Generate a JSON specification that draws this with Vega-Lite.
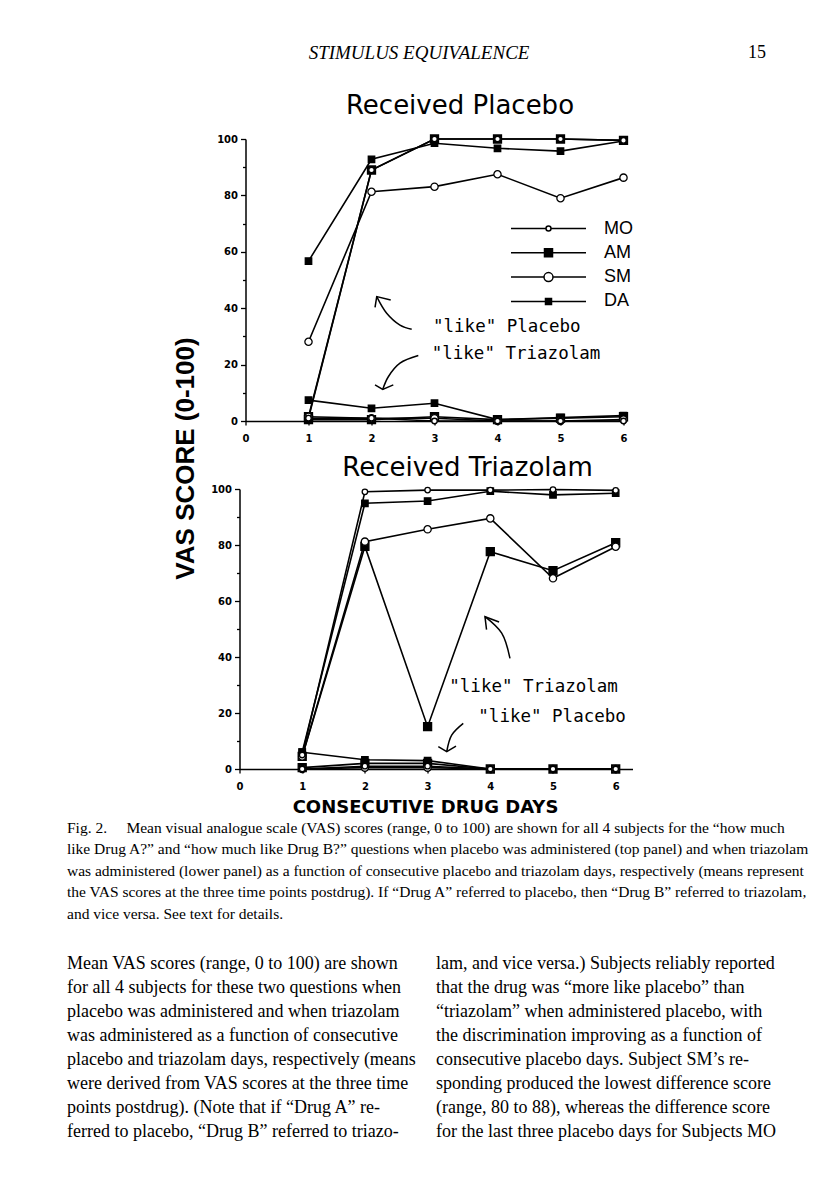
{
  "$schema": "https://vega.github.io/schema/vega-lite/v6.json",
  "background": "white",
  "padding": {"left": 67, "top": 0, "right": 4, "bottom": 4},
  "autosize": {"type": "pad"},
  "bounds": "flush",
  "center": true,
  "spacing": 33,
  "config": {
    "view": {"stroke": null},
    "axis": {
      "domainColor": "black", "domainWidth": 1.5, "tickColor": "black", "tickWidth": 1.3,
      "labelColor": "black", "labelFont": "DejaVu Sans", "labelFontWeight": "bold", "labelFontSize": 10,
      "grid": false, "labelFlush": false, "labelOverlap": false, "titleColor": "black"
    },
    "text": {"color": "black"}
  },
  "resolve": {
    "scale": {"shape": "independent", "size": "independent", "fill": "independent"},
    "legend": {"shape": "independent", "size": "independent", "fill": "independent"}
  },
  "datasets": {
    "header": [
      {"role": "running head", "label": "STIMULUS EQUIVALENCE"},
      {"role": "page number", "label": "15"}
    ],
    "placebo_series": [
      {"subject": "DA", "question": "like placebo", "day": 1, "score": 1.5},
      {"subject": "DA", "question": "like placebo", "day": 2, "score": 89},
      {"subject": "DA", "question": "like placebo", "day": 3, "score": 100},
      {"subject": "DA", "question": "like placebo", "day": 4, "score": 100},
      {"subject": "DA", "question": "like placebo", "day": 5, "score": 100},
      {"subject": "DA", "question": "like placebo", "day": 6, "score": 99.5},
      {"subject": "DA", "question": "like triazolam", "day": 1, "score": 0.5},
      {"subject": "DA", "question": "like triazolam", "day": 2, "score": 0.5},
      {"subject": "DA", "question": "like triazolam", "day": 3, "score": 1.5},
      {"subject": "DA", "question": "like triazolam", "day": 4, "score": 0.5},
      {"subject": "DA", "question": "like triazolam", "day": 5, "score": 1},
      {"subject": "DA", "question": "like triazolam", "day": 6, "score": 1.5},
      {"subject": "AM", "question": "like placebo", "day": 1, "score": 56.7},
      {"subject": "AM", "question": "like placebo", "day": 2, "score": 92.8},
      {"subject": "AM", "question": "like placebo", "day": 3, "score": 98.5},
      {"subject": "AM", "question": "like placebo", "day": 4, "score": 96.7},
      {"subject": "AM", "question": "like placebo", "day": 5, "score": 95.7},
      {"subject": "AM", "question": "like placebo", "day": 6, "score": 99.3},
      {"subject": "AM", "question": "like triazolam", "day": 1, "score": 7.4},
      {"subject": "AM", "question": "like triazolam", "day": 2, "score": 4.5},
      {"subject": "AM", "question": "like triazolam", "day": 3, "score": 6.3},
      {"subject": "AM", "question": "like triazolam", "day": 4, "score": 0.5},
      {"subject": "AM", "question": "like triazolam", "day": 5, "score": 1.2},
      {"subject": "AM", "question": "like triazolam", "day": 6, "score": 1.9},
      {"subject": "SM", "question": "like placebo", "day": 1, "score": 28.1},
      {"subject": "SM", "question": "like placebo", "day": 2, "score": 81.3},
      {"subject": "SM", "question": "like placebo", "day": 3, "score": 83.1},
      {"subject": "SM", "question": "like placebo", "day": 4, "score": 87.5},
      {"subject": "SM", "question": "like placebo", "day": 5, "score": 79},
      {"subject": "SM", "question": "like placebo", "day": 6, "score": 86.3},
      {"subject": "SM", "question": "like triazolam", "day": 1, "score": 1.5},
      {"subject": "SM", "question": "like triazolam", "day": 2, "score": 1},
      {"subject": "SM", "question": "like triazolam", "day": 3, "score": 1},
      {"subject": "SM", "question": "like triazolam", "day": 4, "score": 0},
      {"subject": "SM", "question": "like triazolam", "day": 5, "score": 0},
      {"subject": "SM", "question": "like triazolam", "day": 6, "score": 0.5},
      {"subject": "MO", "question": "like placebo", "day": 1, "score": 1},
      {"subject": "MO", "question": "like placebo", "day": 2, "score": 89},
      {"subject": "MO", "question": "like placebo", "day": 3, "score": 100},
      {"subject": "MO", "question": "like placebo", "day": 4, "score": 100},
      {"subject": "MO", "question": "like placebo", "day": 5, "score": 100},
      {"subject": "MO", "question": "like placebo", "day": 6, "score": 99.5},
      {"subject": "MO", "question": "like triazolam", "day": 1, "score": 1},
      {"subject": "MO", "question": "like triazolam", "day": 2, "score": 1},
      {"subject": "MO", "question": "like triazolam", "day": 3, "score": 0},
      {"subject": "MO", "question": "like triazolam", "day": 4, "score": 0},
      {"subject": "MO", "question": "like triazolam", "day": 5, "score": 0},
      {"subject": "MO", "question": "like triazolam", "day": 6, "score": 0}
    ],
    "triazolam_series": [
      {"subject": "DA", "question": "like triazolam", "day": 1, "score": 4.5},
      {"subject": "DA", "question": "like triazolam", "day": 2, "score": 79.5},
      {"subject": "DA", "question": "like triazolam", "day": 3, "score": 15.1},
      {"subject": "DA", "question": "like triazolam", "day": 4, "score": 77.6},
      {"subject": "DA", "question": "like triazolam", "day": 5, "score": 70.8},
      {"subject": "DA", "question": "like triazolam", "day": 6, "score": 80.8},
      {"subject": "DA", "question": "like placebo", "day": 1, "score": 0.5},
      {"subject": "DA", "question": "like placebo", "day": 2, "score": 2},
      {"subject": "DA", "question": "like placebo", "day": 3, "score": 2},
      {"subject": "DA", "question": "like placebo", "day": 4, "score": 0},
      {"subject": "DA", "question": "like placebo", "day": 5, "score": 0},
      {"subject": "DA", "question": "like placebo", "day": 6, "score": 0},
      {"subject": "AM", "question": "like triazolam", "day": 1, "score": 6},
      {"subject": "AM", "question": "like triazolam", "day": 2, "score": 94.9},
      {"subject": "AM", "question": "like triazolam", "day": 3, "score": 95.7},
      {"subject": "AM", "question": "like triazolam", "day": 4, "score": 99.2},
      {"subject": "AM", "question": "like triazolam", "day": 5, "score": 97.9},
      {"subject": "AM", "question": "like triazolam", "day": 6, "score": 98.5},
      {"subject": "AM", "question": "like placebo", "day": 1, "score": 6},
      {"subject": "AM", "question": "like placebo", "day": 2, "score": 3.3},
      {"subject": "AM", "question": "like placebo", "day": 3, "score": 3},
      {"subject": "AM", "question": "like placebo", "day": 4, "score": 0},
      {"subject": "AM", "question": "like placebo", "day": 5, "score": 0},
      {"subject": "AM", "question": "like placebo", "day": 6, "score": 0},
      {"subject": "SM", "question": "like triazolam", "day": 1, "score": 4.5},
      {"subject": "SM", "question": "like triazolam", "day": 2, "score": 81.2},
      {"subject": "SM", "question": "like triazolam", "day": 3, "score": 85.6},
      {"subject": "SM", "question": "like triazolam", "day": 4, "score": 89.5},
      {"subject": "SM", "question": "like triazolam", "day": 5, "score": 68.1},
      {"subject": "SM", "question": "like triazolam", "day": 6, "score": 79.4},
      {"subject": "SM", "question": "like placebo", "day": 1, "score": 0},
      {"subject": "SM", "question": "like placebo", "day": 2, "score": 0.5},
      {"subject": "SM", "question": "like placebo", "day": 3, "score": 0.5},
      {"subject": "SM", "question": "like placebo", "day": 4, "score": 0},
      {"subject": "SM", "question": "like placebo", "day": 5, "score": 0},
      {"subject": "SM", "question": "like placebo", "day": 6, "score": 0},
      {"subject": "MO", "question": "like triazolam", "day": 1, "score": 5},
      {"subject": "MO", "question": "like triazolam", "day": 2, "score": 99},
      {"subject": "MO", "question": "like triazolam", "day": 3, "score": 99.6},
      {"subject": "MO", "question": "like triazolam", "day": 4, "score": 99.6},
      {"subject": "MO", "question": "like triazolam", "day": 5, "score": 99.8},
      {"subject": "MO", "question": "like triazolam", "day": 6, "score": 99.5},
      {"subject": "MO", "question": "like placebo", "day": 1, "score": 0},
      {"subject": "MO", "question": "like placebo", "day": 2, "score": 1},
      {"subject": "MO", "question": "like placebo", "day": 3, "score": 1},
      {"subject": "MO", "question": "like placebo", "day": 4, "score": 0},
      {"subject": "MO", "question": "like placebo", "day": 5, "score": 0},
      {"subject": "MO", "question": "like placebo", "day": 6, "score": 0}
    ],
    "annotations": [
      {"panel": "Received Placebo", "label": "\"like\" Placebo", "day": 2.976, "score": 33.2},
      {"panel": "Received Placebo", "label": "\"like\" Triazolam", "day": 2.956, "score": 23.8},
      {"panel": "Received Triazolam", "label": "\"like\" Triazolam", "day": 3.346, "score": 29.2},
      {"panel": "Received Triazolam", "label": "\"like\" Placebo", "day": 3.809, "score": 18.7}
    ],
    "arrows": [
      {"panel": "Received Placebo", "arrow": "to placebo lines", "part": "shaft", "seq": 1, "day": 2.638, "score": 32.5},
      {"panel": "Received Placebo", "arrow": "to placebo lines", "part": "shaft", "seq": 2, "day": 2.452, "score": 34.0},
      {"panel": "Received Placebo", "arrow": "to placebo lines", "part": "shaft", "seq": 3, "day": 2.241, "score": 38.2},
      {"panel": "Received Placebo", "arrow": "to placebo lines", "part": "shaft", "seq": 4, "day": 2.083, "score": 44.1},
      {"panel": "Received Placebo", "arrow": "to placebo lines", "part": "head", "seq": 1, "day": 2.056, "score": 40.3},
      {"panel": "Received Placebo", "arrow": "to placebo lines", "part": "head", "seq": 2, "day": 2.083, "score": 44.1},
      {"panel": "Received Placebo", "arrow": "to placebo lines", "part": "head", "seq": 3, "day": 2.305, "score": 42.9},
      {"panel": "Received Placebo", "arrow": "to triazolam lines", "part": "shaft", "seq": 1, "day": 2.743, "score": 23.2},
      {"panel": "Received Placebo", "arrow": "to triazolam lines", "part": "shaft", "seq": 2, "day": 2.452, "score": 20.5},
      {"panel": "Received Placebo", "arrow": "to triazolam lines", "part": "shaft", "seq": 3, "day": 2.267, "score": 15.7},
      {"panel": "Received Placebo", "arrow": "to triazolam lines", "part": "shaft", "seq": 4, "day": 2.178, "score": 11.2},
      {"panel": "Received Placebo", "arrow": "to triazolam lines", "part": "head", "seq": 1, "day": 2.056, "score": 12.8},
      {"panel": "Received Placebo", "arrow": "to triazolam lines", "part": "head", "seq": 2, "day": 2.178, "score": 11.2},
      {"panel": "Received Placebo", "arrow": "to triazolam lines", "part": "head", "seq": 3, "day": 2.346, "score": 12.8},
      {"panel": "Received Triazolam", "arrow": "to triazolam lines", "part": "shaft", "seq": 1, "day": 4.314, "score": 39.5},
      {"panel": "Received Triazolam", "arrow": "to triazolam lines", "part": "shaft", "seq": 2, "day": 4.182, "score": 48.5},
      {"panel": "Received Triazolam", "arrow": "to triazolam lines", "part": "shaft", "seq": 3, "day": 3.915, "score": 54.4},
      {"panel": "Received Triazolam", "arrow": "to triazolam lines", "part": "head", "seq": 1, "day": 3.94, "score": 49.8},
      {"panel": "Received Triazolam", "arrow": "to triazolam lines", "part": "head", "seq": 2, "day": 3.915, "score": 54.4},
      {"panel": "Received Triazolam", "arrow": "to triazolam lines", "part": "head", "seq": 3, "day": 4.14, "score": 52.5},
      {"panel": "Received Triazolam", "arrow": "to placebo lines", "part": "shaft", "seq": 1, "day": 3.569, "score": 16.3},
      {"panel": "Received Triazolam", "arrow": "to placebo lines", "part": "shaft", "seq": 2, "day": 3.384, "score": 12.1},
      {"panel": "Received Triazolam", "arrow": "to placebo lines", "part": "shaft", "seq": 3, "day": 3.305, "score": 6.2},
      {"panel": "Received Triazolam", "arrow": "to placebo lines", "part": "head", "seq": 1, "day": 3.171, "score": 8.0},
      {"panel": "Received Triazolam", "arrow": "to placebo lines", "part": "head", "seq": 2, "day": 3.305, "score": 6.2},
      {"panel": "Received Triazolam", "arrow": "to placebo lines", "part": "head", "seq": 3, "day": 3.453, "score": 8.2}
    ],
    "caption": [
      {"block": "caption", "line": 1, "text": "\u2003Fig. 2.\u2003\u2005Mean visual analogue scale (VAS) scores (range, 0 to 100) are shown for all 4 subjects for the “how much"},
      {"block": "caption", "line": 2, "text": "like Drug A?” and “how much like Drug B?” questions when placebo was administered (top panel) and when triazolam"},
      {"block": "caption", "line": 3, "text": "was administered (lower panel) as a function of consecutive placebo and triazolam days, respectively (means represent"},
      {"block": "caption", "line": 4, "text": "the VAS scores at the three time points postdrug). If “Drug A” referred to placebo, then “Drug B” referred to triazolam,"},
      {"block": "caption", "line": 5, "text": "and vice versa. See text for details."}
    ],
    "body": [
      {"column": "left", "line": 1, "text": "Mean VAS scores (range, 0 to 100) are shown"},
      {"column": "left", "line": 2, "text": "for all 4 subjects for these two questions when"},
      {"column": "left", "line": 3, "text": "placebo was administered and when triazolam"},
      {"column": "left", "line": 4, "text": "was administered as a function of consecutive"},
      {"column": "left", "line": 5, "text": "placebo and triazolam days, respectively (means"},
      {"column": "left", "line": 6, "text": "were derived from VAS scores at the three time"},
      {"column": "left", "line": 7, "text": "points postdrug). (Note that if “Drug A” re-"},
      {"column": "left", "line": 8, "text": "ferred to placebo, “Drug B” referred to triazo-"},
      {"column": "right", "line": 1, "text": "lam, and vice versa.) Subjects reliably reported"},
      {"column": "right", "line": 2, "text": "that the drug was “more like placebo” than"},
      {"column": "right", "line": 3, "text": "“triazolam” when administered placebo, with"},
      {"column": "right", "line": 4, "text": "the discrimination improving as a function of"},
      {"column": "right", "line": 5, "text": "consecutive placebo days. Subject SM’s re-"},
      {"column": "right", "line": 6, "text": "sponding produced the lowest difference score"},
      {"column": "right", "line": 7, "text": "(range, 80 to 88), whereas the difference score"},
      {"column": "right", "line": 8, "text": "for the last three placebo days for Subjects MO"}
    ]
  },
  "vconcat": [
    {
      "width": 738, "height": 106,
      "resolve": {"scale": {"x": "independent"}},
      "layer": [
        {"data": {"name": "header"},
         "transform": [{"filter": "datum.role === 'running head'"}],
         "mark": {"type": "text", "font": "Liberation Serif", "fontStyle": "italic", "fontSize": 19, "letterSpacing": 1.3, "align": "center", "baseline": "middle"},
         "encoding": {
           "x": {"field": "role", "type": "nominal", "scale": {"type": "point", "domain": ["running head", "page number"], "padding": 0.5634, "align": 0.9003}, "axis": null},
           "text": {"field": "label"}}},
        {"data": {"name": "header"},
         "transform": [{"filter": "datum.role === 'page number'"}],
         "mark": {"type": "text", "font": "Liberation Serif", "fontSize": 18, "align": "right", "baseline": "middle"},
         "encoding": {
           "x": {"field": "role", "type": "nominal", "scale": {"type": "point", "domain": ["running head", "page number"], "padding": 0.5634, "align": 0.9003}, "axis": null},
           "text": {"field": "label"}}},
        {"data": {"values": [{"label": "Received Placebo"}]},
         "mark": {"type": "text", "font": "DejaVu Sans", "fontSize": 26, "align": "center", "baseline": "middle"},
         "encoding": {
           "x": {"field": "label", "type": "nominal", "scale": {"type": "point", "padding": 0, "align": 0.5325}, "axis": null},
           "y": {"value": "height"},
           "text": {"field": "label"}}}
      ]
    },
    {
      "width": 381, "height": 282,
      "encoding": {
        "x": {"field": "day", "type": "quantitative", "scale": {"domain": [0, 6.0476], "nice": false, "zero": false},
              "axis": {"title": null, "format": "d", "values": [0, 0.5, 1, 1.5, 2, 2.5, 3, 3.5, 4, 4.5, 5, 5.5, 6], "labelExpr": "datum.value % 1 === 0 ? datum.label : ''", "tickSize": 4, "labelPadding": 8}},
        "y": {"field": "score", "type": "quantitative", "scale": {"domain": [0, 100], "nice": false},
              "axis": {"title": null, "values": [0, 10, 20, 30, 40, 50, 60, 70, 80, 90, 100], "labelExpr": "datum.value % 20 === 0 ? datum.label : ''", "tickSize": {"condition": {"test": "datum.value % 20 === 0", "value": 5}, "value": 3}, "labelPadding": 3}}
      },
      "resolve": {
        "scale": {"shape": "independent", "size": "independent", "fill": "independent"},
        "legend": {"shape": "independent", "size": "independent", "fill": "independent"}
      },
      "layer": [
        {"data": {"name": "placebo_series"},
         "mark": {"type": "line", "color": "black", "strokeWidth": 1.6},
         "encoding": {"detail": [{"field": "subject"}, {"field": "question"}]}},
        {"data": {"name": "placebo_series"},
         "mark": {"type": "point", "filled": true, "stroke": "black", "strokeWidth": 1.3, "opacity": 1},
         "encoding": {
           "shape": {"field": "subject", "type": "nominal", "scale": {"domain": ["MO", "AM", "SM", "DA"], "range": ["circle", "square", "circle", "square"]}, "legend": null},
           "size": {"field": "subject", "type": "nominal", "scale": {"domain": ["MO", "AM", "SM", "DA"], "range": [30, 64, 81, 30]}, "legend": null},
           "fill": {"field": "subject", "type": "nominal", "scale": {"domain": ["MO", "AM", "SM", "DA"], "range": ["white", "black", "white", "black"]}, "legend": null}
         }},
        {"data": {"name": "placebo_series"},
         "transform": [{"filter": "false"}],
         "mark": {"type": "point", "filled": true, "stroke": "black", "strokeWidth": 1.5, "size": 100, "opacity": 1},
         "encoding": {
           "shape": {"field": "subject", "type": "nominal",
             "scale": {"domain": ["MO", "AM", "SM", "DA"], "range": [
               "M-7.5,0H-0.5M0.5,0A0.5,0.5,0,1,1,-0.5,0A0.5,0.5,0,1,1,0.5,0ZM0.5,0H7.5",
               "M-7.5,0H-0.8M-0.8,-0.8H0.8V0.8H-0.8ZM0.8,0H7.5",
               "M-7.5,0H-0.9M0.9,0A0.9,0.9,0,1,1,-0.9,0A0.9,0.9,0,1,1,0.9,0ZM0.9,0H7.5",
               "M-7.5,0H-0.6M-0.6,-0.6H0.6V0.6H-0.6ZM0.6,0H7.5"]},
             "legend": {"title": null, "orient": "none", "legendX": 294, "legendY": 80.5, "padding": 0, "rowPadding": 6.3, "symbolSize": 100,
               "symbolOpacity": 1,
               "labelFont": "Liberation Sans Narrow, Liberation Sans", "labelFontSize": 18, "labelColor": "black", "labelOffset": 46.5,
               "encode": {"symbols": {"stroke": {"value": "black"}, "strokeWidth": {"value": 1.5}}}}},
           "fill": {"field": "subject", "type": "nominal", "scale": {"domain": ["MO", "AM", "SM", "DA"], "range": ["white", "black", "white", "black"]}}
         }},
        {"data": {"name": "annotations"},
         "transform": [{"filter": "datum.panel === 'Received Placebo'"}],
         "mark": {"type": "text", "font": "DejaVu Sans Mono", "fontSize": 17.5, "align": "left", "baseline": "middle"},
         "encoding": {"text": {"field": "label"}}},
        {"data": {"name": "arrows"},
         "transform": [{"filter": "datum.panel === 'Received Placebo' && datum.part === 'shaft'"}],
         "mark": {"type": "line", "interpolate": "catmull-rom", "color": "black", "strokeWidth": 1.5},
         "encoding": {"detail": {"field": "arrow"}, "order": {"field": "seq"}}},
        {"data": {"name": "arrows"},
         "transform": [{"filter": "datum.panel === 'Received Placebo' && datum.part === 'head'"}],
         "mark": {"type": "line", "color": "black", "strokeWidth": 1.5},
         "encoding": {"detail": {"field": "arrow"}, "order": {"field": "seq"}}}
      ]
    },
    {
      "width": 738, "height": 2,
      "data": {"values": [{"label": "Received Triazolam"}]},
      "mark": {"type": "text", "font": "DejaVu Sans", "fontSize": 26, "align": "center", "baseline": "top"},
      "encoding": {
        "x": {"field": "label", "type": "nominal", "scale": {"type": "point", "padding": 0, "align": 0.5427}, "axis": null},
        "text": {"field": "label"}
      }
    },
    {
      "width": 393, "height": 280,
      "encoding": {
        "x": {"field": "day", "type": "quantitative", "scale": {"domain": [0, 6.268], "nice": false, "zero": false},
              "axis": {"title": "CONSECUTIVE DRUG DAYS", "titleFont": "DejaVu Sans", "titleFontWeight": "bold", "titleFontSize": 18, "titleX": 185.5, "titleY": 38, "titleBaseline": "middle", "titleAlign": "center",
                       "format": "d", "values": [0, 0.5, 1, 1.5, 2, 2.5, 3, 3.5, 4, 4.5, 5, 5.5, 6], "labelExpr": "datum.value % 1 === 0 ? datum.label : ''", "tickSize": 4, "labelPadding": 8}},
        "y": {"field": "score", "type": "quantitative", "scale": {"domain": [0, 100], "nice": false},
              "axis": {"title": "VAS SCORE (0-100)", "titleFont": "Liberation Sans", "titleFontWeight": "bold", "titleFontSize": 26, "titleAngle": 270, "titleX": -54, "titleY": -31, "titleBaseline": "middle", "titleAlign": "center",
                       "values": [0, 10, 20, 30, 40, 50, 60, 70, 80, 90, 100], "labelExpr": "datum.value % 20 === 0 ? datum.label : ''", "tickSize": {"condition": {"test": "datum.value % 20 === 0", "value": 5}, "value": 3}, "labelPadding": 3}}
      },
      "layer": [
        {"data": {"name": "triazolam_series"},
         "mark": {"type": "line", "color": "black", "strokeWidth": 1.6},
         "encoding": {"detail": [{"field": "subject"}, {"field": "question"}]}},
        {"data": {"name": "triazolam_series"},
         "mark": {"type": "point", "filled": true, "stroke": "black", "strokeWidth": 1.3, "opacity": 1},
         "encoding": {
           "shape": {"field": "subject", "type": "nominal", "scale": {"domain": ["MO", "AM", "SM", "DA"], "range": ["circle", "square", "circle", "square"]}, "legend": null},
           "size": {"field": "subject", "type": "nominal", "scale": {"domain": ["MO", "AM", "SM", "DA"], "range": [30, 64, 81, 30]}, "legend": null},
           "fill": {"field": "subject", "type": "nominal", "scale": {"domain": ["MO", "AM", "SM", "DA"], "range": ["white", "black", "white", "black"]}, "legend": null}
         }},
        {"data": {"name": "annotations"},
         "transform": [{"filter": "datum.panel === 'Received Triazolam'"}],
         "mark": {"type": "text", "font": "DejaVu Sans Mono", "fontSize": 17.5, "align": "left", "baseline": "middle"},
         "encoding": {"text": {"field": "label"}}},
        {"data": {"name": "arrows"},
         "transform": [{"filter": "datum.panel === 'Received Triazolam' && datum.part === 'shaft'"}],
         "mark": {"type": "line", "interpolate": "catmull-rom", "color": "black", "strokeWidth": 1.5},
         "encoding": {"detail": {"field": "arrow"}, "order": {"field": "seq"}}},
        {"data": {"name": "arrows"},
         "transform": [{"filter": "datum.panel === 'Received Triazolam' && datum.part === 'head'"}],
         "mark": {"type": "line", "color": "black", "strokeWidth": 1.5},
         "encoding": {"detail": {"field": "arrow"}, "order": {"field": "seq"}}}
      ]
    },
    {
      "width": 738, "height": 129,
      "data": {"name": "caption"},
      "mark": {"type": "text", "font": "Liberation Serif", "fontSize": 15.5, "align": "left", "baseline": "middle"},
      "encoding": {
        "x": {"field": "block", "type": "nominal", "scale": {"type": "point", "padding": 0, "align": 0}, "axis": null},
        "y": {"field": "line", "type": "ordinal", "scale": {"type": "point", "padding": 1.909, "align": 0.603}, "axis": null},
        "text": {"field": "text"}
      }
    },
    {
      "width": 738, "height": 168,
      "data": {"name": "body"},
      "mark": {"type": "text", "font": "Liberation Serif", "fontSize": 18, "align": "left", "baseline": "middle"},
      "encoding": {
        "x": {"field": "column", "type": "nominal", "scale": {"type": "point", "domain": ["left", "right"], "padding": 0.5, "align": 0}, "axis": null},
        "y": {"field": "line", "type": "ordinal", "scale": {"type": "point", "padding": 0}, "axis": null},
        "text": {"field": "text"}
      }
    }
  ]
}
